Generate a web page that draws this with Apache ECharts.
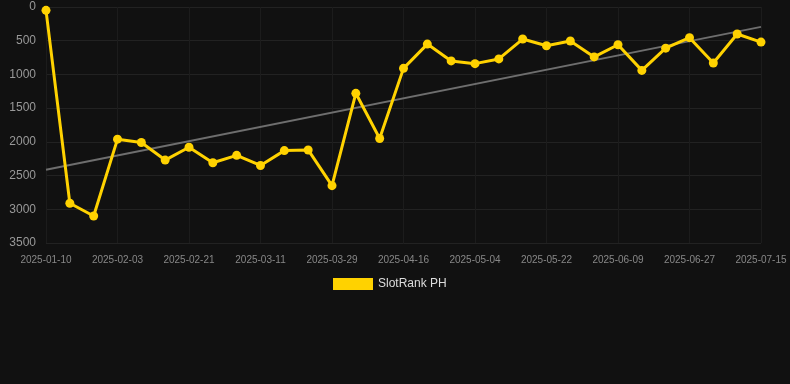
<!DOCTYPE html>
<html>
<head>
<meta charset="utf-8">
<script src="https://cdn.jsdelivr.net/npm/echarts@6/dist/echarts.min.js"></script>
<style>
  html, body { margin: 0; padding: 0; background: #111111; }
  #chart { width: 790px; height: 384px; }
</style>
</head>
<body>
<div id="chart"></div>
<script>
// categories (one point every 6 days after the first few)
let dates = [
    '2025-01-10', '2025-01-22', '2025-01-28', '2025-02-03', '2025-02-09', '2025-02-15',
    '2025-02-21', '2025-02-27', '2025-03-05', '2025-03-11', '2025-03-17', '2025-03-23',
    '2025-03-29', '2025-04-04', '2025-04-10', '2025-04-16', '2025-04-22', '2025-04-28',
    '2025-05-04', '2025-05-10', '2025-05-16', '2025-05-22', '2025-05-28', '2025-06-03',
    '2025-06-09', '2025-06-15', '2025-06-21', '2025-06-27', '2025-07-03', '2025-07-09',
    '2025-07-15'
];
// rank values
let rankPH = [
    50, 2910, 3100, 1960, 2010, 2270, 2080, 2310, 2200, 2350, 2130, 2120,
    2650, 1280, 1950, 910, 550, 800, 840, 770, 475, 575, 505, 740,
    560, 940, 610, 455, 830, 400, 520
];
// trend line end points
let trendStart = 2415;
let trendEnd = 295;
let yTicks = { min: 0, max: 3500, step: 500 };

let trend = dates.map((d, i) => i === 0 ? trendStart : (i === dates.length - 1 ? trendEnd : null));

let chart = echarts.init(document.getElementById('chart'));
chart.setOption({
    backgroundColor: '#111111',
    animation: false,
    grid: {
        left: 46,
        right: 29,
        top: 7,
        bottom: 141
    },
    legend: {
        top: 278,
        left: 333,
        padding: 0,
        itemWidth: 40,
        itemHeight: 12,
        textStyle: { color: '#dddddd', fontSize: 12 },
        data: [{ name: 'SlotRank PH', icon: 'rect' }]
    },
    xAxis: {
        type: 'category',
        boundaryGap: false,
        data: dates,
        axisLine: { show: false },
        axisTick: {
            show: true,
            interval: 2,
            length: 10,
            lineStyle: { color: '#1c1c1c' }
        },
        axisLabel: {
            color: '#888888',
            fontSize: 10,
            interval: 2,
            margin: 12
        },
        splitLine: {
            show: true,
            interval: 2,
            lineStyle: { color: '#1c1c1c', width: 1 }
        }
    },
    yAxis: {
        type: 'value',
        inverse: true,
        min: yTicks.min,
        max: yTicks.max,
        interval: yTicks.step,
        axisLine: { show: false },
        axisTick: { show: false },
        axisLabel: {
            color: '#999999',
            fontSize: 12,
            margin: 10,
            formatter: v => String(v)
        },
        splitLine: {
            lineStyle: { color: '#222222', width: 1 }
        }
    },
    series: [
        {
            name: 'SlotRank PH',
            type: 'line',
            data: rankPH,
            symbol: 'circle',
            symbolSize: 9,
            itemStyle: { color: '#ffd200' },
            lineStyle: { color: '#ffd200', width: 3 },
            z: 3
        },
        {
            name: 'trend',
            type: 'line',
            data: trend,
            connectNulls: true,
            symbol: 'none',
            lineStyle: { color: '#6e6e6e', width: 2 },
            z: 2
        }
    ]
});
</script>
</body>
</html>
